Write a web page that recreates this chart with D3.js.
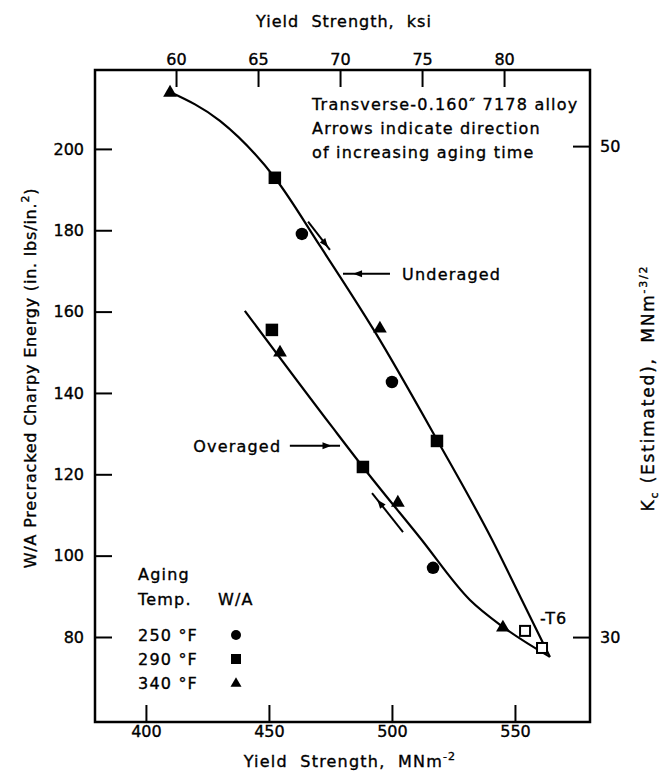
<!DOCTYPE html>
<html><head><meta charset="utf-8">
<script src="https://cdn.jsdelivr.net/npm/d3@7"></script>
<style>
html,body{margin:0;padding:0;background:#fff;}
svg text{font-family:"DejaVu Sans",sans-serif;fill:#000;stroke:#000;stroke-width:0.35px;}
</style></head><body>
<svg id="chart" width="665" height="776"></svg>
<script>
// ---------------- data ----------------
const xTicksMPa = [400, 450, 500, 550];
const xTicksKsi = [60, 65, 70, 75, 80];
const yTicksWA  = [80, 100, 120, 140, 160, 180, 200];
const yTicksKc  = [30, 50];

// curves (yield strength MPa, W/A)
const underagedCurve = [[409.8,214.0],[430.1,206.9],[452.4,192.9],[470.7,176.2],[493.1,155.0],[518.3,128.5],[540.7,103.9],[552.4,89.6],[564.2,75.1]];
const overagedCurve  = [[440.2,160.2],[476.0,131.4],[488.2,121.8],[511.4,104.4],[531.7,89.1],[545.1,82.5],[564.2,75.1]];

// measured points: temp (F), MPa, W/A
const pointTemps = [340, 290, 250, 340, 250, 290,   290, 340, 290, 340, 250, 340];
const pointMPa   = [409.8,452.4,463.4,495.1,500.0,518.3, 451.2,454.5,488.2,502.4,516.7,545.1];
const pointWA    = [214.0,192.9,179.1,156.0,142.7,128.2, 155.5,150.1,121.8,113.2,97.0,82.5];
// T6 (open squares)
const t6MPa = [554.1, 561.0];
const t6WA  = [81.5, 77.3];

const legendTemps = ["250 °F", "290 °F", "340 °F"];
const legendKeys  = [250, 290, 340];

// ---------------- layout ----------------
const svg = d3.select("#chart");
const L = 95, R = 590, T = 70, B = 722;

const x  = d3.scaleLinear().domain([379.3, 580.5]).range([L, R]);
const xK = d3.scaleLinear().domain([55.06, 85.24]).range([L, R]);
const y  = d3.scaleLinear().domain([59.1, 219.4]).range([B, T]);
const yK = d3.scaleLinear().domain([26.54, 53.10]).range([B, T]);

const TICK = 17;
function styleAxis(g){
  g.select(".domain").remove();
  g.selectAll(".tick line").attr("stroke","#000").attr("stroke-width",2);
  g.selectAll(".tick text").attr("font-size",16).attr("fill","#000").attr("font-family",'"DejaVu Sans",sans-serif');
}
svg.append("g").attr("transform",`translate(0,${B})`)
  .call(d3.axisBottom(x).tickValues(xTicksMPa).tickSizeInner(-TICK).tickSizeOuter(0).tickPadding(4))
  .call(styleAxis);
svg.append("g").attr("transform",`translate(0,${T})`)
  .call(d3.axisTop(xK).tickValues(xTicksKsi).tickSizeInner(-TICK).tickSizeOuter(0).tickPadding(5))
  .call(styleAxis);
svg.append("g").attr("transform",`translate(${L},0)`)
  .call(d3.axisLeft(y).tickValues(yTicksWA).tickSizeInner(-TICK).tickSizeOuter(0).tickPadding(11))
  .call(styleAxis);
svg.append("g").attr("transform",`translate(${R},0)`)
  .call(d3.axisRight(yK).tickValues(yTicksKc).tickSizeInner(-TICK).tickSizeOuter(0).tickPadding(10))
  .call(styleAxis);

// frame
svg.append("rect").attr("x",L).attr("y",T).attr("width",R-L).attr("height",B-T)
  .attr("fill","none").attr("stroke","#000").attr("stroke-width",2.5);

// axis titles
svg.append("text").attr("x",344).attr("y",27).attr("text-anchor","middle")
  .attr("font-size",16).attr("letter-spacing",1).style("white-space","pre").text("Yield  Strength,  ksi");
const bt = svg.append("text").attr("x",350).attr("y",767).attr("text-anchor","middle")
  .attr("font-size",16).attr("letter-spacing",1.2).style("white-space","pre");
bt.append("tspan").text("Yield  Strength,  MNm");
bt.append("tspan").attr("font-size",11).attr("dy",-7).text("-2");

const lt = svg.append("text").attr("transform","translate(36,378) rotate(-90)")
  .attr("text-anchor","middle").attr("font-size",16).attr("letter-spacing",0.8);
lt.append("tspan").text("W/A Precracked Charpy Energy (in. lbs/in.");
lt.append("tspan").attr("font-size",11).attr("dy",-7).text("2");
lt.append("tspan").attr("dy",7).text(")");

const rt = svg.append("text").attr("transform","translate(654,388) rotate(-90)")
  .attr("text-anchor","middle").attr("font-size",17).attr("letter-spacing",1.8);
rt.append("tspan").text("K");
rt.append("tspan").attr("font-size",11).attr("dy",4).text("c");
rt.append("tspan").attr("dy",-4).style("white-space","pre").text(" (Estimated),  MNm");
rt.append("tspan").attr("font-size",11).attr("dy",-7).text("-3/2");

// curves
const line = d3.line().x(d=>x(d[0])).y(d=>y(d[1])).curve(d3.curveMonotoneX);
svg.append("path").datum(underagedCurve).attr("d",line).attr("fill","none").attr("stroke","#000").attr("stroke-width",2.2);
svg.append("path").datum(overagedCurve).attr("d",line).attr("fill","none").attr("stroke","#000").attr("stroke-width",2.2);

// markers
function marker(g, temp, cx, cy, s, open){
  if(temp===250){
    g.append("circle").attr("cx",cx).attr("cy",cy).attr("r",s*0.5).attr("fill","#000");
  } else if(temp===290){
    g.append("rect").attr("x",cx-s/2).attr("y",cy-s/2).attr("width",s).attr("height",s)
      .attr("fill",open?"#fff":"#000").attr("stroke","#000").attr("stroke-width",open?2:0);
  } else {
    const h = s*0.95;
    g.append("path").attr("d",`M${cx},${cy-h*0.6}L${cx+s*0.55},${cy+h*0.4}L${cx-s*0.55},${cy+h*0.4}Z`).attr("fill","#000");
  }
}
const mg = svg.append("g");
pointTemps.forEach((t,i)=>marker(mg, t, x(pointMPa[i]), y(pointWA[i]), 12.5, false));
t6MPa.forEach((m,i)=>marker(mg, 290, x(m), y(t6WA[i]), 10, true));

// arrows (data units)
const arrows = [
  {from:[465.9,182.1], to:[474.8,175.2], head:0.8},
  {from:[504.5,105.8], to:[491.9,115.4], head:0.75},
  {from:[499.2,169.3], to:[480.1,169.3], head:0.7},
  {from:[458.5,127.0], to:[478.9,127.0], head:0.75}
];
arrows.forEach(a=>{
  const x0=x(a.from[0]), y0=y(a.from[1]), x1=x(a.to[0]), y1=y(a.to[1]);
  svg.append("line").attr("x1",x0).attr("y1",y0).attr("x2",x1).attr("y2",y1).attr("stroke","#000").attr("stroke-width",2);
  const hx = x0+(x1-x0)*a.head, hy = y0+(y1-y0)*a.head;
  const ang = Math.atan2(y1-y0, x1-x0)*180/Math.PI;
  svg.append("path").attr("d","M4,0L-5,-3.5L-5,3.5Z").attr("fill","#000")
    .attr("transform",`translate(${hx},${hy}) rotate(${ang})`);
});

// annotations
svg.append("text").attr("x",x(504.1)).attr("y",280).attr("font-size",16).attr("letter-spacing",1.2).text("Underaged");
svg.append("text").attr("x",x(455)).attr("y",452).attr("text-anchor","end").attr("font-size",16).attr("letter-spacing",1.2).text("Overaged");
svg.append("text").attr("x",540).attr("y",624).attr("font-size",16).attr("letter-spacing",1).text("-T6");

const noteLines = ["Transverse-0.160\u2033 7178 alloy", "Arrows indicate direction", "of increasing aging time"];
const note = svg.append("text").attr("font-size",16).attr("letter-spacing",1.2);
noteLines.forEach((s,i)=> note.append("tspan").attr("x",312).attr("y",110+i*24).text(s));

// legend
const lgText = (tx,ty,s)=>svg.append("text").attr("x",tx).attr("y",ty).attr("font-size",16).attr("letter-spacing",1.2).text(s);
lgText(138,580,"Aging");
lgText(138,605,"Temp.");
lgText(218,605,"W/A");
legendTemps.forEach((s,i)=>{
  lgText(138,641+i*24,s);
  marker(svg, legendKeys[i], 236, 635+i*24, 10, false);
});
</script>
</body></html>
